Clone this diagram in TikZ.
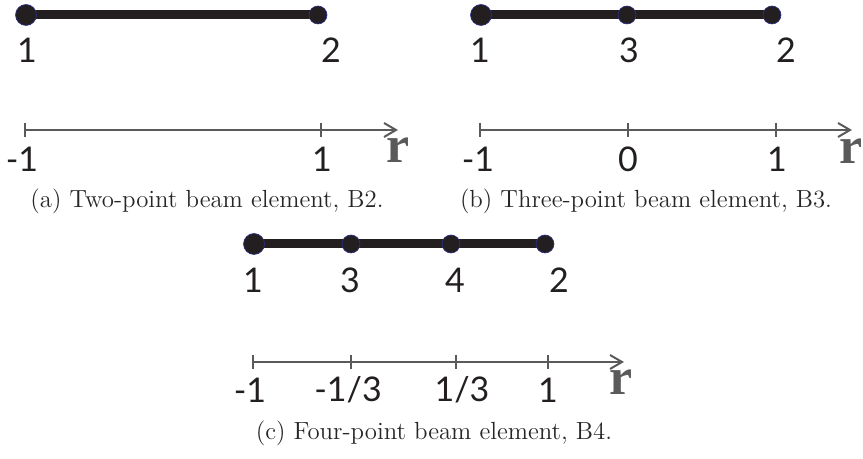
\documentclass[tikz,border=0pt]{standalone}
\usepackage{fontspec}
\newfontfamily\lblfont{Lato}
\newfontfamily\rfont{Liberation Serif}
\usetikzlibrary{arrows.meta}
\definecolor{beam}{HTML}{231F20}
\definecolor{axisgray}{HTML}{5A5A5A}
\definecolor{rimblue}{HTML}{2B2F8F}
\tikzset{
  bignode/.style={circle,fill=beam,draw=rimblue,line width=0.3pt,minimum size=10.5pt,inner sep=0pt},
  smallnode/.style={circle,fill=beam,draw=rimblue,line width=0.3pt,minimum size=9pt,inner sep=0pt},
  beamline/.style={draw=beam,line width=4.5pt},
  axisline/.style={draw=axisgray,line width=1pt,-{Straight Barb[length=6pt,width=7pt,line width=1pt]}},
  tickmark/.style={draw=axisgray,line width=0.6pt},
  lbl/.style={font=\lblfont\fontsize{17}{19}\selectfont,text=beam,inner sep=0pt},
  rlbl/.style={font=\rfont\bfseries\fontsize{26}{28}\selectfont,text=axisgray,inner sep=0pt},
  captxt/.style={font=\fontsize{12.4}{14}\selectfont,text=black!85,inner sep=0pt}
}
\begin{document}
\begin{tikzpicture}[x=0.5pt,y=-0.5pt]
\useasboundingbox (0,0) rectangle (863,459);
% ---------- (a)
\coordinate (a1) at (26,15);
\coordinate (a2) at (318,15);
\draw[beamline] (a1) -- (a2);
\node[bignode] (na1) at (a1) {};
\node[smallnode] (na2) at (a2) {};
\node[lbl] (la1) at (27,50) {1};
\node[lbl] (la2) at (331,50) {2};
\coordinate (ax0) at (25,130);
\coordinate (ax1) at (398,130);
\draw[axisline] (ax0) -- (ax1);
\coordinate (ta1) at (25,130);
\coordinate (ta2) at (321,130);
\foreach \t in {ta1,ta2}{\draw[tickmark] ([yshift=3.5pt]\t) -- ([yshift=-3.5pt]\t);}
\node[lbl] (xa1) at (22,159) {-1};
\node[lbl] (xa2) at (322,159) {1};
\node[rlbl] (ra) at (398,150) {r};
\node[captxt] (capa) at (207,201) {(a) Two-point beam element, B2.};
% ---------- (b)
\coordinate (b1) at (481,15);
\coordinate (b3) at (627,15);
\coordinate (b2) at (772,15);
\draw[beamline] (b1) -- (b2);
\node[bignode] (nb1) at (b1) {};
\node[smallnode] (nb3) at (b3) {};
\node[smallnode] (nb2) at (b2) {};
\node[lbl] (lb1) at (480,50) {1};
\node[lbl] (lb3) at (629,50) {3};
\node[lbl] (lb2) at (786,50) {2};
\coordinate (bx0) at (480,130);
\coordinate (bx1) at (852,130);
\draw[axisline] (bx0) -- (bx1);
\coordinate (tb1) at (480,130);
\coordinate (tb2) at (628,130);
\coordinate (tb3) at (776,130);
\foreach \t in {tb1,tb2,tb3}{\draw[tickmark] ([yshift=3.5pt]\t) -- ([yshift=-3.5pt]\t);}
\node[lbl] (xb1) at (478,159) {-1};
\node[lbl] (xb2) at (628,159) {0};
\node[lbl] (xb3) at (777,159) {1};
\node[rlbl] (rb) at (851,151) {r};
\node[captxt] (capb) at (646,201) {(b) Three-point beam element, B3.};
% ---------- (c)
\coordinate (c1) at (254,244);
\coordinate (c3) at (351,244);
\coordinate (c4) at (451,244);
\coordinate (c2) at (545,244);
\draw[beamline] (c1) -- (c2);
\node[bignode] (nc1) at (c1) {};
\node[smallnode] (nc3) at (c3) {};
\node[smallnode] (nc4) at (c4) {};
\node[smallnode] (nc2) at (c2) {};
\node[lbl] (lc1) at (253,280) {1};
\node[lbl] (lc3) at (350,280) {3};
\node[lbl] (lc4) at (455,280) {4};
\node[lbl] (lc2) at (559,280) {2};
\coordinate (cx0) at (253,362);
\coordinate (cx1) at (624,362);
\draw[axisline] (cx0) -- (cx1);
\coordinate (tc1) at (253,362);
\coordinate (tc2) at (351,362);
\coordinate (tc3) at (456,362);
\coordinate (tc4) at (548,362);
\foreach \t in {tc1,tc2,tc3,tc4}{\draw[tickmark] ([yshift=3.5pt]\t) -- ([yshift=-3.5pt]\t);}
\node[lbl] (xc1) at (250,390) {-1};
\node[lbl] (xc2) at (348,390) {-1/3};
\node[lbl] (xc3) at (462,390) {1/3};
\node[lbl] (xc4) at (548,390) {1};
\node[rlbl] (rc) at (621,382) {r};
\node[captxt] (capc) at (434,433) {(c) Four-point beam element, B4.};
\end{tikzpicture}
\end{document}
